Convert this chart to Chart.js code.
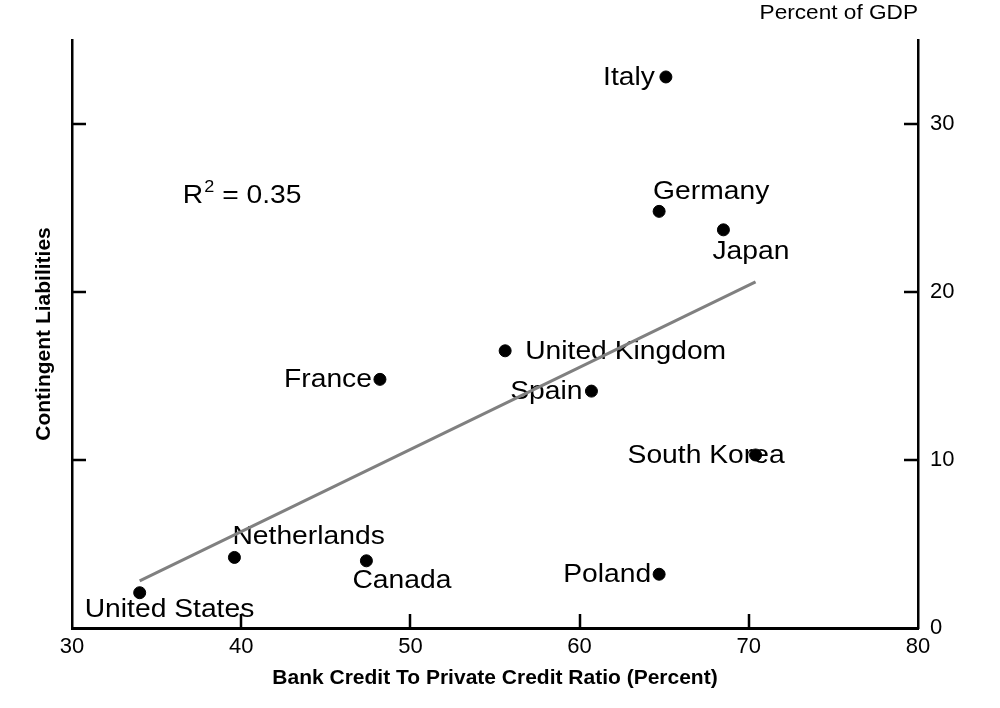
<!DOCTYPE html>
<html>
<head>
<meta charset="utf-8">
<script src="https://cdn.jsdelivr.net/npm/chart.js@4"></script>
<style>
  html, body { margin: 0; padding: 0; background: #fff; }
  #wrap { width: 1000px; height: 708px; position: relative; }
</style>
</head>
<body>
<div id="wrap"><canvas id="c"></canvas></div>
<script>
// ---- Data ----
const countries = ['Italy', 'Germany', 'Japan', 'United Kingdom', 'France', 'Spain', 'South Korea', 'Netherlands', 'Canada', 'Poland', 'United States'];
const bankCreditRatio = [65.1, 64.7, 68.5, 55.6, 48.2, 60.7, 70.4, 39.6, 47.4, 64.7, 34.0];
const contingentLiabilities = [32.8, 24.8, 23.7, 16.5, 14.8, 14.1, 10.3, 4.2, 4.0, 3.2, 2.1];
const trendX = [34.0, 70.4];
const trendY = [2.8, 20.6];
const xTicks = [30, 40, 50, 60, 70, 80];
const yTicks = [0, 10, 20, 30];
const rSquaredText = '0.35';
const rSquaredAnchor = [36.55, 25.7];

// ---- Label placement (style, not data) ----
const labelPlacement = {
  'Italy':          { align: 'right', dx: -11, dy: 1 },
  'Germany':        { align: 'left',  dx: -6,  dy: -19 },
  'Japan':          { align: 'left',  dx: -11, dy: 22 },
  'United Kingdom': { align: 'left',  dx: 20,  dy: 1 },
  'France':         { align: 'right', dx: -8,  dy: 1 },
  'Spain':          { align: 'right', dx: -9,  dy: 1 },
  'South Korea':    { align: 'left',  dx: -128, dy: 1 },
  'Netherlands':    { align: 'left',  dx: -2,  dy: -20 },
  'Canada':         { align: 'left',  dx: -14, dy: 20 },
  'Poland':         { align: 'right', dx: -8,  dy: 1 },
  'United States':  { align: 'left',  dx: -55, dy: 17 }
};

const FONT = "'Liberation Sans', Arial, sans-serif";
const STRETCH = 1.13;

const points = countries.map((c, i) => ({ x: bankCreditRatio[i], y: contingentLiabilities[i], label: c }));
const trend = trendX.map((x, i) => ({ x: x, y: trendY[i] }));

function wideText(ctx, text, x, y, align, stretch) {
  ctx.save();
  ctx.translate(x, y);
  ctx.scale(stretch, 1);
  ctx.textAlign = align;
  ctx.fillText(text, 0, 0);
  ctx.restore();
}

const labelsPlugin = {
  id: 'countryLabels',
  beforeDatasetsDraw(chart) {
    const ctx = chart.ctx;
    const xs = chart.scales.x, ys = chart.scales.y;
    ctx.save();
    ctx.font = '25px ' + FONT;
    ctx.fillStyle = '#000';
    ctx.textBaseline = 'middle';
    points.forEach(p => {
      const pl = labelPlacement[p.label];
      const px = xs.getPixelForValue(p.x) + pl.dx;
      const py = ys.getPixelForValue(p.y) + pl.dy;
      wideText(ctx, p.label, px, py, pl.align, STRETCH);
    });
    // R^2 annotation
    let rx = xs.getPixelForValue(rSquaredAnchor[0]);
    const ry = ys.getPixelForValue(rSquaredAnchor[1]);
    ctx.font = '25px ' + FONT;
    wideText(ctx, 'R', rx, ry, 'left', STRETCH);
    rx += ctx.measureText('R').width * STRETCH + 1;
    ctx.font = '16px ' + FONT;
    wideText(ctx, '2', rx, ry - 9, 'left', STRETCH);
    rx += ctx.measureText('2').width * STRETCH;
    ctx.font = '25px ' + FONT;
    wideText(ctx, ' = ' + rSquaredText, rx, ry, 'left', STRETCH);
    ctx.restore();
  }
};

const ticksPlugin = {
  id: 'inwardTicks',
  afterDraw(chart) {
    const ctx = chart.ctx;
    const xs = chart.scales.x, ys = chart.scales.y;
    const len = 14;
    ctx.save();
    ctx.strokeStyle = '#000';
    ctx.lineWidth = 2.5;
    ctx.beginPath();
    xTicks.forEach(v => {
      if (v === xs.min || v === xs.max) return;
      const px = Math.round(xs.getPixelForValue(v));
      ctx.moveTo(px, ys.bottom);
      ctx.lineTo(px, ys.bottom - len);
    });
    yTicks.forEach(v => {
      if (v === 0) return;
      const py = Math.round(ys.getPixelForValue(v));
      ctx.moveTo(xs.left, py);
      ctx.lineTo(xs.left + len, py);
      ctx.moveTo(xs.right, py);
      ctx.lineTo(xs.right - len, py);
    });
    ctx.stroke();
    // unit label
    ctx.font = '19.5px ' + FONT;
    ctx.fillStyle = '#000';
    ctx.textBaseline = 'middle';
    wideText(ctx, 'Percent of GDP', xs.right, 14, 'right', 1.16);
    ctx.restore();
  }
};

new Chart(document.getElementById('c'), {
  type: 'scatter',
  data: {
    datasets: [
      {
        type: 'line',
        label: 'Trend',
        data: trend,
        borderColor: '#808080',
        borderWidth: 3,
        pointRadius: 0,
        fill: false,
        yAxisID: 'y',
        order: 0
      },
      {
        label: 'Countries',
        data: points,
        backgroundColor: '#000',
        borderColor: '#000',
        pointRadius: 6,
        pointHoverRadius: 6,
        yAxisID: 'y',
        order: 1
      }
    ]
  },
  options: {
    responsive: true,
    maintainAspectRatio: false,
    animation: false,
    devicePixelRatio: 1,
    layout: { padding: { top: 40, left: 0, right: 0, bottom: 0 } },
    plugins: { legend: { display: false }, tooltip: { enabled: false } },
    scales: {
      x: {
        type: 'linear',
        position: 'bottom',
        min: 30, max: 80,
        afterBuildTicks: s => { s.ticks = xTicks.map(v => ({ value: v })); },
        afterFit: s => { s.height = 80; },
        ticks: { color: '#000', font: { family: FONT, size: 22 }, padding: 6 },
        grid: { drawOnChartArea: false, drawTicks: false },
        border: { display: true, color: '#000', width: 3 },
        title: {
          display: true,
          text: 'Bank Credit To Private Credit Ratio (Percent)',
          color: '#000',
          font: { family: FONT, size: 21, weight: 'bold' },
          padding: { top: 0, bottom: 17 }
        }
      },
      y: {
        type: 'linear',
        position: 'left',
        min: 0, max: 35,
        afterBuildTicks: s => { s.ticks = yTicks.map(v => ({ value: v })); },
        afterFit: s => { s.width = 72; },
        ticks: { display: false },
        grid: { drawOnChartArea: false, drawTicks: false },
        border: { display: true, color: '#000', width: 2.5 },
        title: {
          display: true,
          text: 'Contingent Liabilities',
          color: '#000',
          font: { family: FONT, size: 21, weight: 'bold' },
          padding: { top: 32, bottom: 0 }
        }
      },
      y2: {
        type: 'linear',
        position: 'right',
        min: 0, max: 35,
        afterBuildTicks: s => { s.ticks = yTicks.map(v => ({ value: v })); },
        afterFit: s => { s.width = 82; },
        ticks: { color: '#000', font: { family: FONT, size: 22 }, padding: 12 },
        grid: { drawOnChartArea: false, drawTicks: false },
        border: { display: true, color: '#000', width: 2.5 }
      }
    }
  },
  plugins: [labelsPlugin, ticksPlugin]
});
</script>
</body>
</html>
